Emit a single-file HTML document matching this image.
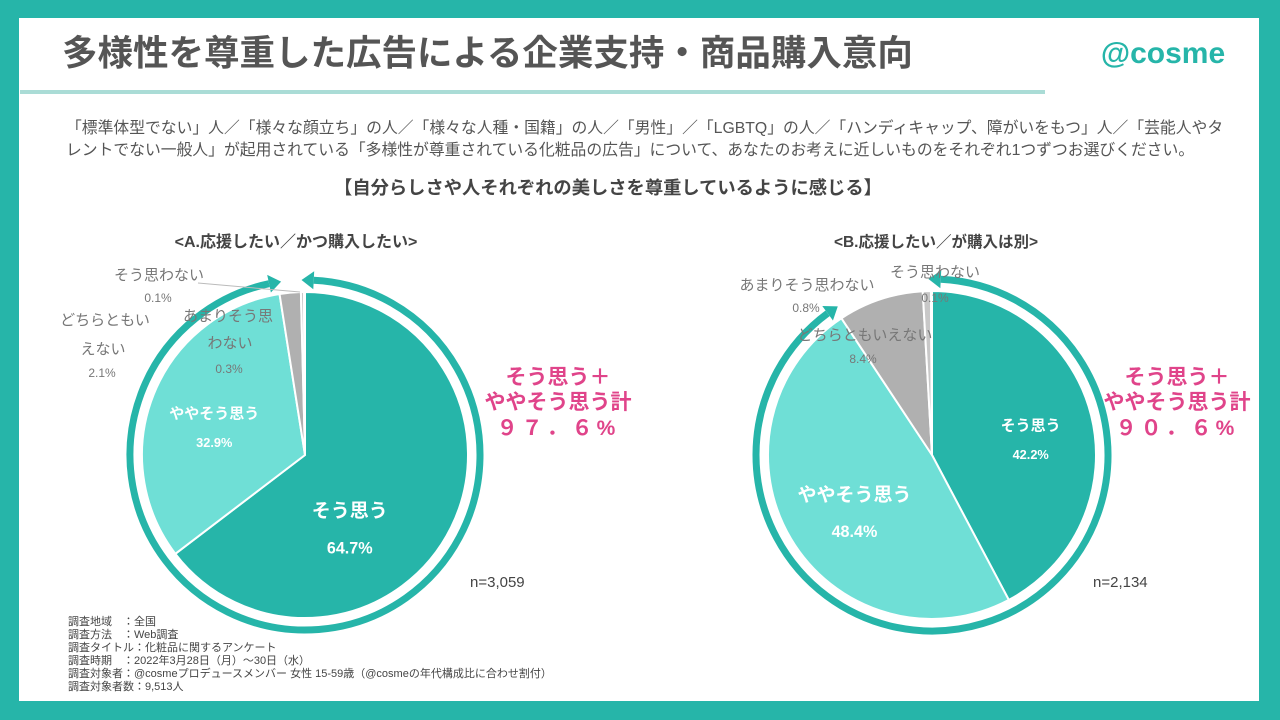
<!DOCTYPE html>
<html><head><meta charset="utf-8"><style>
html,body{margin:0;padding:0}
body{width:1280px;height:720px;background:#26b5a9;position:relative;overflow:hidden;font-family:"Liberation Sans","Noto Sans CJK JP",sans-serif}
</style></head><body>
<svg width="1280" height="720" style="position:absolute;left:0;top:0">
<rect x="19" y="18" width="1240" height="683" fill="#fff"/>
<g id="pies"></g>
<g id="static" font-family="Liberation Sans, Noto Sans CJK JP, sans-serif">
<text x="62" y="65" font-size="35.5" font-weight="bold" fill="#555">多様性を尊重した広告による企業支持・商品購入意向</text>
<text x="1163" y="63" font-size="30" font-weight="bold" fill="#26b5a9" text-anchor="middle">@cosme</text>
<rect x="20" y="90" width="1025" height="4" fill="#aadcd6"/>
<text x="66" y="133" font-size="15.8" fill="#555">「標準体型でない」人／「様々な顔立ち」の人／「様々な人種・国籍」の人／「男性」／「LGBTQ」の人／「ハンディキャップ、障がいをもつ」人／「芸能人やタ</text>
<text x="66" y="155" font-size="15.8" fill="#555">レントでない一般人」が起用されている「多様性が尊重されている化粧品の広告」について、あなたのお考えに近しいものをそれぞれ1つずつお選びください。</text>
<text x="608" y="194" font-size="18.3" font-weight="bold" fill="#444" text-anchor="middle">【自分らしさや人それぞれの美しさを尊重しているように感じる】</text>
<text x="296" y="247" font-size="16" font-weight="bold" fill="#444" text-anchor="middle">&lt;A.応援したい／かつ購入したい&gt;</text>
<text x="936" y="247" font-size="15.5" font-weight="bold" fill="#444" text-anchor="middle">&lt;B.応援したい／が購入は別&gt;</text>
<g font-size="21" font-weight="bold" fill="#e0448a" text-anchor="middle">
<text x="558" y="384">そう思う＋</text>
<text x="558" y="409">ややそう思う計</text>
<text x="558" y="435" letter-spacing="4">９７．６%</text>
<text x="1177" y="384">そう思う＋</text>
<text x="1177" y="409">ややそう思う計</text>
<text x="1177" y="435" letter-spacing="4">９０．６%</text>
</g>
<text x="470" y="587" font-size="15" fill="#444">n=3,059</text>
<text x="1093" y="587" font-size="15" fill="#444">n=2,134</text>
<g font-size="11" fill="#444">
<text x="68" y="625">調査地域　：全国</text>
<text x="68" y="638">調査方法　：Web調査</text>
<text x="68" y="651">調査タイトル：化粧品に関するアンケート</text>
<text x="68" y="664">調査時期　：2022年3月28日（月）～30日（水）</text>
<text x="68" y="677">調査対象者：@cosmeプロデュースメンバー 女性 15-59歳（@cosmeの年代構成比に合わせ割付）</text>
<text x="68" y="690">調査対象者数：9,513人</text>
</g>
<g font-size="15" fill="#777" text-anchor="middle">
<text x="159" y="280">そう思わない</text>
<text x="158" y="302" font-size="12">0.1%</text>
<text x="105" y="325">どちらともい</text>
<text x="103" y="354">えない</text>
<text x="102" y="377" font-size="12">2.1%</text>
<text x="228" y="321">あまりそう思</text>
<text x="230" y="348">わない</text>
<text x="229" y="373" font-size="12">0.3%</text>
<text x="807" y="290">あまりそう思わない</text>
<text x="806" y="312" font-size="12">0.8%</text>
<text x="935" y="277">そう思わない</text>
<text x="935" y="302" font-size="12">0.1%</text>
<text x="865" y="340">どちらともいえない</text>
<text x="863" y="363" font-size="12">8.4%</text>
</g>
<line x1="198" y1="283" x2="300" y2="292" stroke="#bbb" stroke-width="1"/>
</g>
</svg>
<script>
const categories=["そう思う","ややそう思う","どちらともいえない","あまりそう思わない","そう思わない"];
const valuesA=[64.7,32.9,2.1,0.3,0.1];
const valuesB=[42.2,48.4,8.4,0.8,0.1];
const colors=["#26b5a9","#6fdfd6","#b0b0b0","#c8c8c8","#d8d8d8"];
const NS="http://www.w3.org/2000/svg";
const g=document.getElementById('pies');
function pt(cx,cy,r,a){return [cx+r*Math.sin(a),cy-r*Math.cos(a)];}
function drawPie(vals,cx,cy,r,key,lp){
  const tot=vals.reduce((a,b)=>a+b,0);
  let a0=0;
  vals.forEach((v,i)=>{
    const a1=a0+v/tot*2*Math.PI;
    const p0=pt(cx,cy,r,a0),p1=pt(cx,cy,r,a1);
    const p=document.createElementNS(NS,'path');
    p.setAttribute('d',`M${cx},${cy}L${p0[0]},${p0[1]}A${r},${r} 0 ${a1-a0>Math.PI?1:0} 1 ${p1[0]},${p1[1]}Z`);
    p.setAttribute('fill',colors[i]);p.setAttribute('stroke','#fff');p.setAttribute('stroke-width','2');
    
    
    g.appendChild(p);
    if(i<2){
      const mid=a0+(a1-a0)*lp[2][i], lr=r*lp[0][i];
      const c=pt(cx,cy,lr,mid);
      const fs=lp[1][i];
      const t=document.createElementNS(NS,'text');
      t.setAttribute('x',c[0]);t.setAttribute('y',c[1]);t.setAttribute('text-anchor','middle');
      t.setAttribute('fill','#fff');t.setAttribute('font-weight','bold');t.setAttribute('font-size',fs);
      t.textContent=categories[i];
      
      
      g.appendChild(t);
      const t2=document.createElementNS(NS,'text');
      t2.setAttribute('x',c[0]);t2.setAttribute('y',c[1]+fs*1.9);t2.setAttribute('text-anchor','middle');
      t2.setAttribute('fill','#fff');t2.setAttribute('font-weight','bold');t2.setAttribute('font-size',fs*0.85);
      t2.textContent=v.toFixed(1)+'%';
      
      
      g.appendChild(t2);
    }
    a0=a1;
  });
  const endA=(vals[0]+vals[1])/tot*2*Math.PI;
  const R=r+12, s=0.05;
  const q0=pt(cx,cy,R,s),q1=pt(cx,cy,R,endA-0.05);
  const arc=document.createElementNS(NS,'path');
  arc.setAttribute('d',`M${q0[0]},${q0[1]}A${R},${R} 0 ${endA-0.1>Math.PI?1:0} 1 ${q1[0]},${q1[1]}`);
  arc.setAttribute('fill','none');arc.setAttribute('stroke','#26b5a9');arc.setAttribute('stroke-width','7');
  
  
  g.appendChild(arc);
  [[s,-1],[endA-0.05,1]].forEach(([a,dir],k)=>{
    const tip=pt(cx,cy,R,a+dir*0.07);
    const b1=pt(cx,cy,R-9,a),b2=pt(cx,cy,R+9,a);
    const h=document.createElementNS(NS,'polygon');
    h.setAttribute('points',`${tip[0]},${tip[1]} ${b1[0]},${b1[1]} ${b2[0]},${b2[1]}`);
    h.setAttribute('fill','#26b5a9');
    
    
    g.appendChild(h);
  });
}
drawPie(valuesA,305,455,163,'a',[[0.47,0.6],[19,15],[0.62,0.5]]);
drawPie(valuesB,932,455,164,'b',[[0.62,0.55],[15,19],[0.5,0.5]]);
</script>
</body></html>
